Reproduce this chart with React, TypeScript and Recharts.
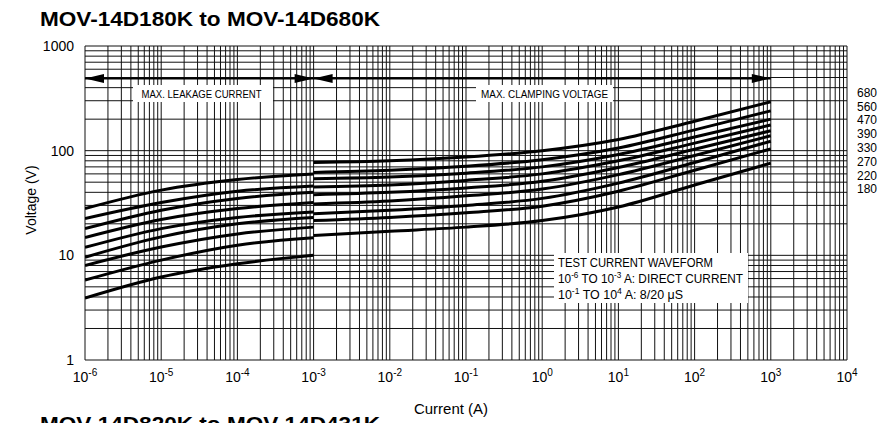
import React from 'react';
import { LineChart, Line, XAxis, YAxis, CartesianGrid } from 'recharts';

// ---- Data ----
const leakageCurrents = [1e-6, 1e-5, 1e-4, 1e-3];
const clampingCurrents = [1e-3, 1e-2, 1e-1, 1, 10, 100, 1000];

// Max. leakage current curves (V), top to bottom
const leak1 = [28, 42, 53, 60];
const leak2 = [22.5, 32, 41, 46];
const leak3 = [18, 27, 35, 40];
const leak4 = [14.8, 22, 28, 32];
const leak5 = [11.9, 18, 23, 26];
const leak6 = [9.6, 15, 20, 23];
const leak7 = [8.0, 12, 16, 18.6];
const leak8 = [5.8, 9, 12.5, 14.7];
const leak9 = [3.9, 6.2, 8.3, 10];

// Max. clamping voltage curves (V), top to bottom
const clamp1 = [77, 80, 87, 100, 128, 191, 293];
const clamp2 = [62, 65, 71, 82, 106, 158, 240];
const clamp3 = [54, 56, 61, 70, 92, 135, 200];
const clamp4 = [45, 47, 52, 60, 80, 118, 176];
const clamp5 = [38, 40, 44, 51, 69, 103, 155];
const clamp6 = [31, 33, 37, 43, 59, 90, 139];
const clamp7 = [25, 27, 30, 35, 49, 77, 123];
const clamp8 = [21.5, 23, 25.5, 29.5, 41, 65, 104];
const clamp9 = [15.5, 17, 18.6, 21.5, 29, 47, 76];

const leakSeries = [leak1, leak2, leak3, leak4, leak5, leak6, leak7, leak8, leak9];
const clampSeries = [clamp1, clamp2, clamp3, clamp4, clamp5, clamp6, clamp7, clamp8, clamp9];

const arrowLevel = 490;
const leakArrowX = [1e-6, 1e-3];
const clampArrowX = [1e-3, 1e3];

const ratingLabels = ['680', '560', '470', '390', '330', '270', '220', '180'];

const xDecades = [-6, -5, -4, -3, -2, -1, 0, 1, 2, 3, 4];
const yDecades = [0, 1, 2, 3];
const mantissas = [1, 2, 3, 4, 5, 6, 7, 8, 9];

const buildTicks = (decades: number[]) => {
  const out: number[] = [];
  decades.forEach((e, i) => {
    if (i === decades.length - 1) {
      out.push(Number(Math.pow(10, e).toPrecision(3)));
    } else {
      mantissas.forEach((m) => out.push(Number((m * Math.pow(10, e)).toPrecision(3))));
    }
  });
  return out;
};
const xTicks = buildTicks(xDecades);
const yTicks = buildTicks(yDecades);

const toData = (xs: number[], vs: number[]) => xs.map((x, i) => ({ x, v: vs[i] }));

const isDecade = (v: number) => {
  const l = Math.log10(v);
  return Math.abs(l - Math.round(l)) < 1e-6;
};

const FONT = '"Liberation Sans", Arial, Helvetica, sans-serif';

const XTick = (props: any) => {
  const { x, y, payload } = props;
  const v = payload.value;
  if (!isDecade(v)) return <g />;
  const e = Math.round(Math.log10(v));
  return (
    <text x={x} y={y + 22} textAnchor="middle" fontFamily={FONT} fontSize={14} fill="#000">
      10
      <tspan fontSize={10} dy={-6}>{String(e)}</tspan>
    </text>
  );
};

const YTick = (props: any) => {
  const { x, y, payload } = props;
  const v = payload.value;
  if (!isDecade(v)) return <g />;
  return (
    <text x={x - 11} y={y + 5} textAnchor="end" fontFamily={FONT} fontSize={14} fill="#000">
      {String(Math.round(v))}
    </text>
  );
};

const arrowDot = (props: any) => {
  const { cx, cy, index } = props;
  const d = index === 0 ? -1 : 1;
  const len = 19;
  const hw = 4.5;
  return (
    <polygon
      key={'a' + index + '-' + cx}
      points={`${cx},${cy} ${cx - d * len},${cy - hw} ${cx - d * len},${cy + hw}`}
      fill="#000"
      stroke="none"
    />
  );
};

const NARROW = '"Liberation Sans Narrow", "Arial Narrow", "Liberation Sans", Arial, sans-serif';

export default function App() {
  return (
    <div style={{ position: 'absolute', left: 0, top: 0, width: 882, height: 423, background: '#fff' }}>
      <LineChart
        width={882}
        height={423}
        margin={{ top: 46, right: 35, left: 0, bottom: 0 }}
      >
        <CartesianGrid stroke="#111" strokeWidth={1} />
        <XAxis
          type="number"
          dataKey="x"
          scale="log"
          domain={[1e-6, 1e4]}
          allowDataOverflow
          ticks={xTicks}
          interval={0}
          tick={<XTick />}
          tickLine={false}
          axisLine={false}
          tickSize={0}
          tickMargin={0}
          height={63}
        />
        <YAxis
          type="number"
          dataKey="v"
          scale="log"
          domain={[1, 1000]}
          allowDataOverflow
          ticks={yTicks}
          interval={0}
          tick={<YTick />}
          tickLine={false}
          axisLine={false}
          tickSize={0}
          tickMargin={0}
          width={85}
        />
        {leakSeries.map((s, i) => (
          <Line
            key={'leak' + i}
            data={toData(leakageCurrents, s)}
            dataKey="v"
            type="monotone"
            stroke="#000"
            strokeWidth={3}
            dot={false}
            isAnimationActive={false}
          />
        ))}
        {clampSeries.map((s, i) => (
          <Line
            key={'clamp' + i}
            data={toData(clampingCurrents, s)}
            dataKey="v"
            type="monotone"
            stroke="#000"
            strokeWidth={3}
            dot={false}
            isAnimationActive={false}
          />
        ))}
        <Line
          data={leakArrowX.map((x) => ({ x, v: arrowLevel }))}
          dataKey="v"
          type="linear"
          stroke="#000"
          strokeWidth={2}
          dot={arrowDot}
          isAnimationActive={false}
        />
        <Line
          data={clampArrowX.map((x) => ({ x, v: arrowLevel }))}
          dataKey="v"
          type="linear"
          stroke="#000"
          strokeWidth={2}
          dot={arrowDot}
          isAnimationActive={false}
        />
      </LineChart>
      <svg
        width={882}
        height={423}
        style={{ position: 'absolute', left: 0, top: 0, pointerEvents: 'none' }}
      >
        <text x={40} y={26} fontFamily={FONT} fontWeight="bold" fontSize={20} textLength={340} lengthAdjust="spacingAndGlyphs" fill="#000">
          MOV-14D180K to MOV-14D680K
        </text>
        <text x={40} y={431} fontFamily={FONT} fontWeight="bold" fontSize={20} textLength={340} lengthAdjust="spacingAndGlyphs" fill="#000">
          MOV-14D820K to MOV-14D431K
        </text>
        <text x={451} y={414} textAnchor="middle" fontFamily={FONT} fontSize={15} fill="#000">
          Current (A)
        </text>
        <text x={36} y={200} transform="rotate(-90 36 200)" textAnchor="middle" fontFamily={FONT} fontSize={14} fill="#000">
          Voltage (V)
        </text>

        <rect x={133} y={85} width={140} height={17} fill="#fff" />
        <text x={141.5} y={98} fontFamily={NARROW} fontSize={11.5} textLength={120} lengthAdjust="spacingAndGlyphs" fill="#000">
          MAX. LEAKAGE CURRENT
        </text>
        <rect x={476} y={85} width={137} height={17} fill="#fff" />
        <text x={481} y={98} fontFamily={NARROW} fontSize={11.5} textLength={127} lengthAdjust="spacingAndGlyphs" fill="#000">
          MAX. CLAMPING VOLTAGE
        </text>

        <rect x={554} y={253} width={194} height={50} fill="#fff" />
        <text x={558} y={267} fontFamily={NARROW} fontSize={13} textLength={155} lengthAdjust="spacingAndGlyphs" fill="#000">
          TEST CURRENT WAVEFORM
        </text>
        <text x={558} y={283} fontFamily={NARROW} fontSize={13} textLength={185} lengthAdjust="spacingAndGlyphs" fill="#000">
          10<tspan fontSize={9} dy={-5}>-6</tspan><tspan dy={5}> TO 10</tspan><tspan fontSize={9} dy={-5}>-3</tspan><tspan dy={5}> A: DIRECT CURRENT</tspan>
        </text>
        <text x={558} y={298.5} fontFamily={NARROW} fontSize={13} textLength={125} lengthAdjust="spacingAndGlyphs" fill="#000">
          10<tspan fontSize={9} dy={-5}>-1</tspan><tspan dy={5}> TO 10</tspan><tspan fontSize={9} dy={-5}>4</tspan><tspan dy={5}> A: 8/20 μS</tspan>
        </text>

        {ratingLabels.map((lab, i) => (
          <text key={lab} x={857} y={96.7 + i * 13.8} fontFamily={FONT} fontSize={12} fill="#000">
            {lab}
          </text>
        ))}
      </svg>
    </div>
  );
}
